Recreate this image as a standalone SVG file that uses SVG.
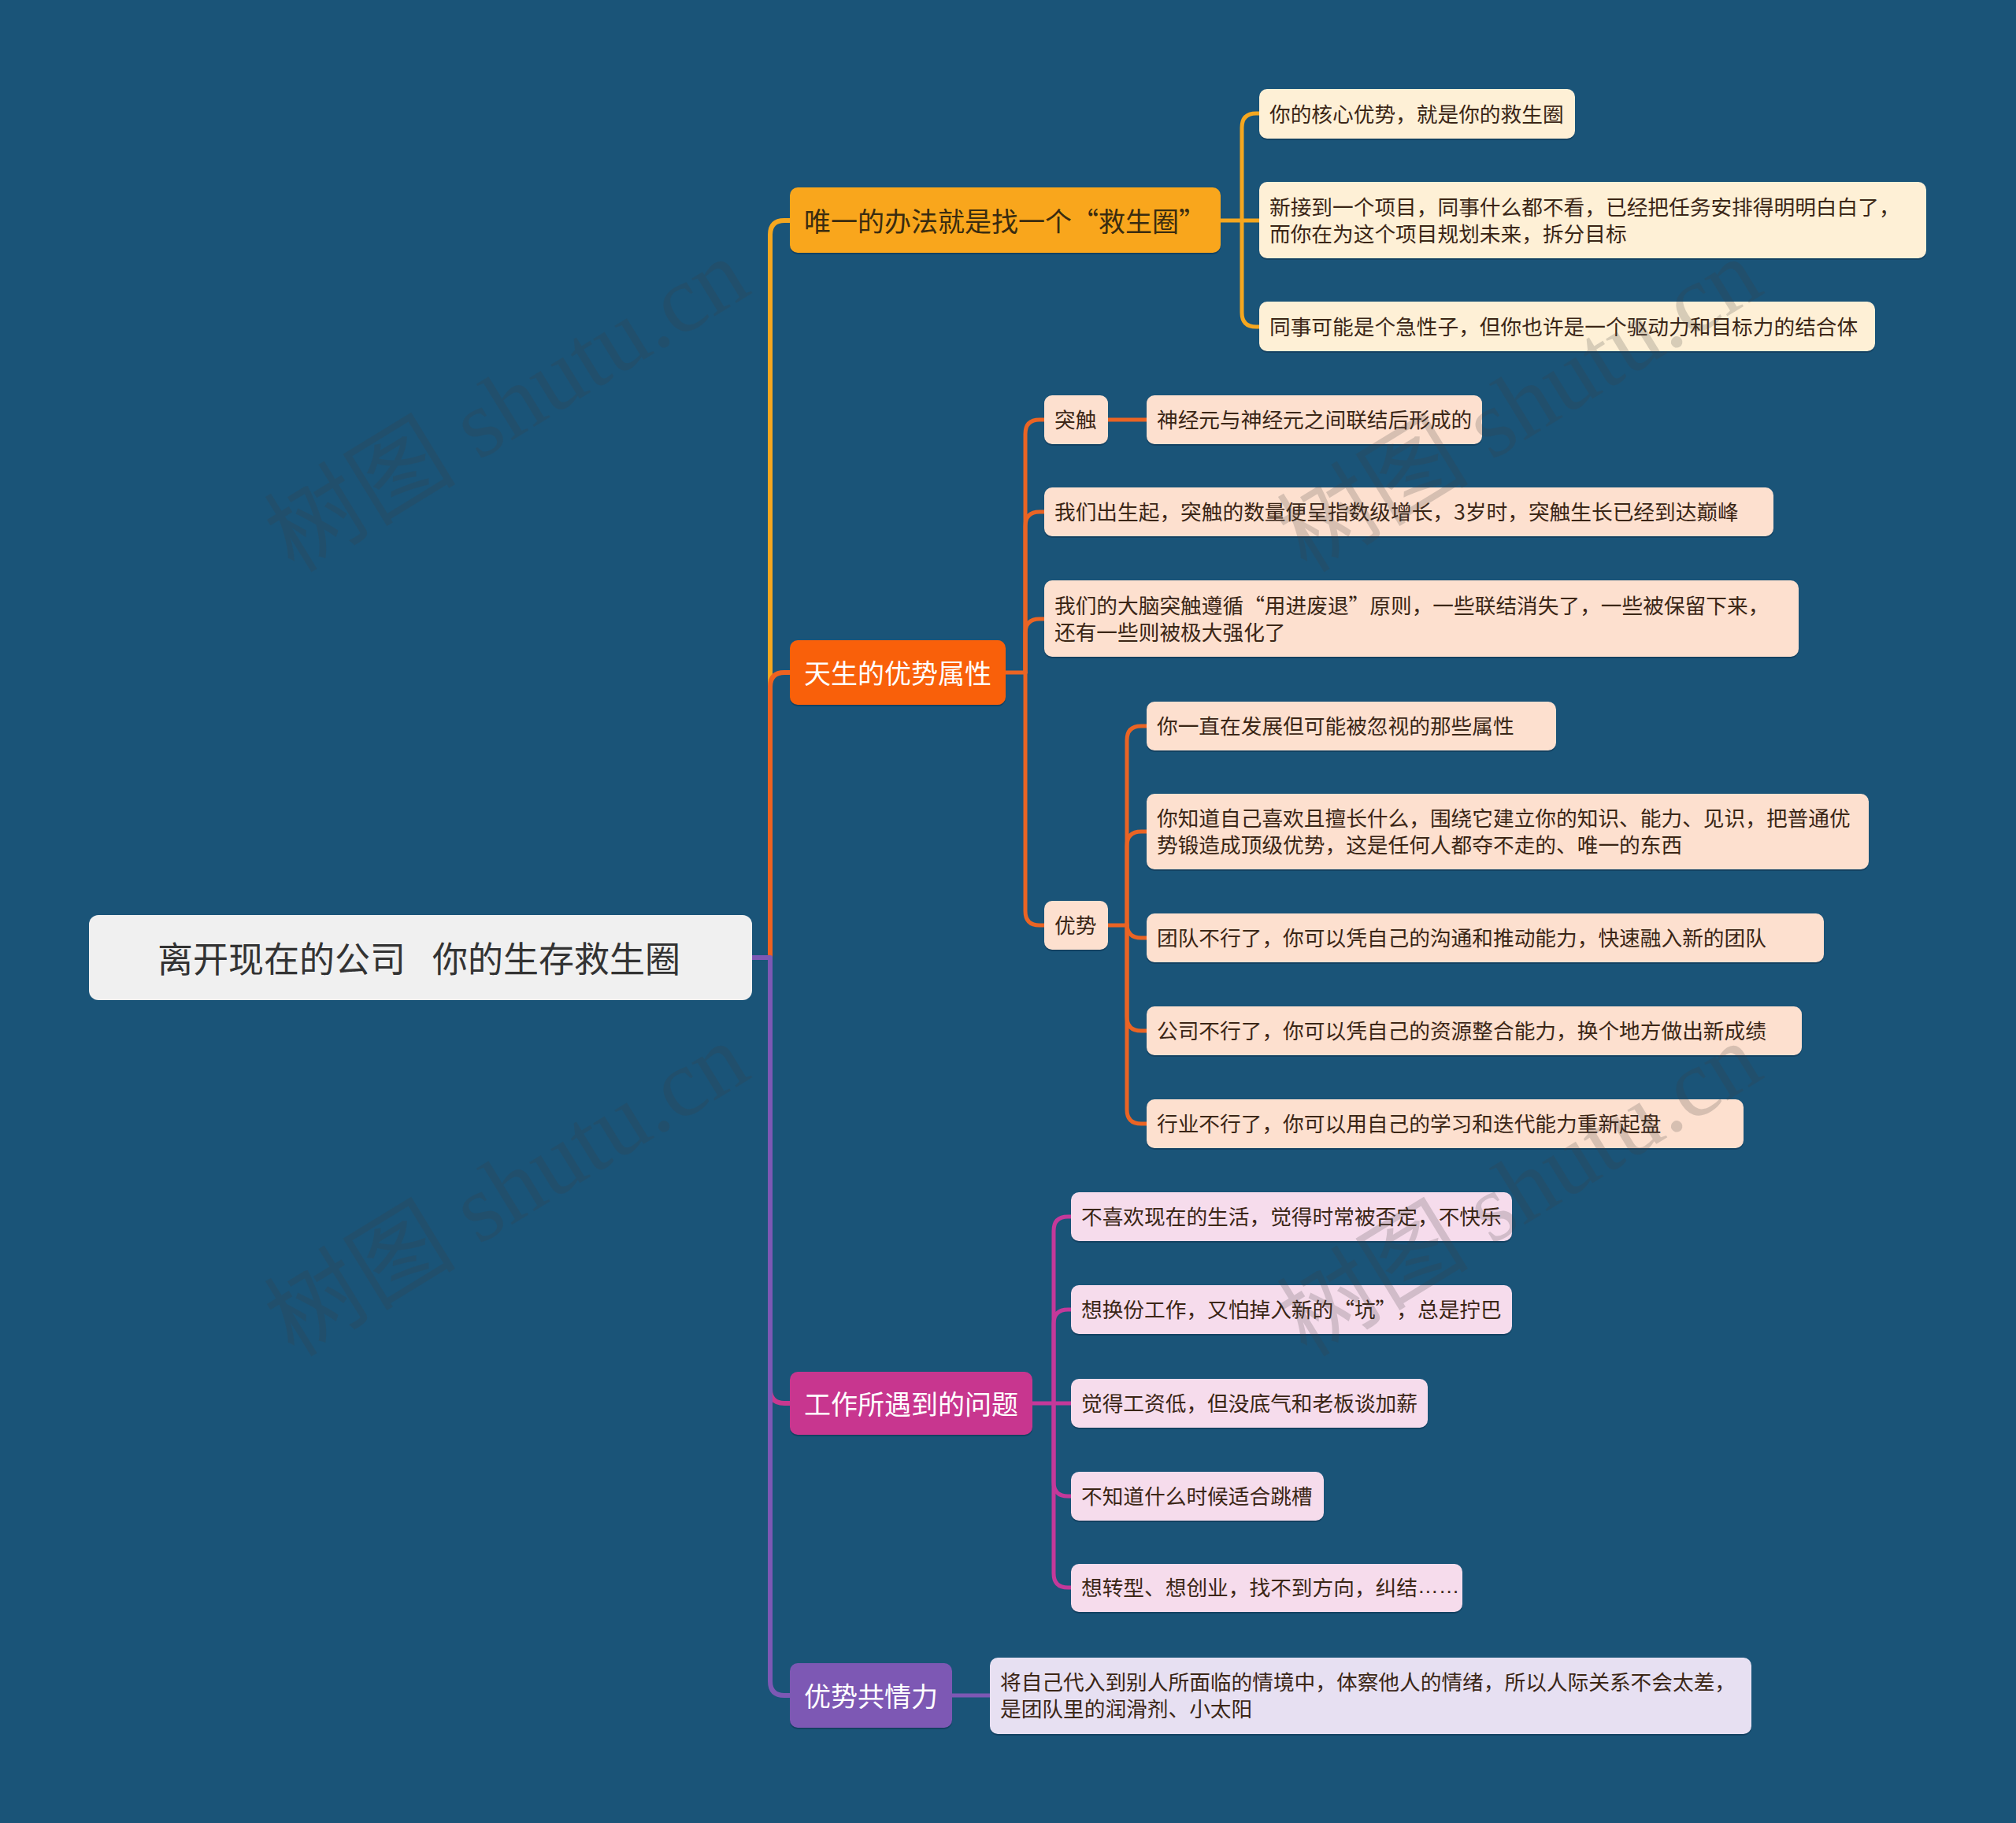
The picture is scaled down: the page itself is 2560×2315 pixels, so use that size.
<svg xmlns="http://www.w3.org/2000/svg" width="2560" height="2315" viewBox="0 0 2560 2315">
<style>
text{font-family:"Noto Sans CJK SC","Microsoft YaHei",sans-serif;dominant-baseline:central;text-spacing-trim:space-all}
.leaf{font-size:26.7px;fill:#3b2616;transform:translateY(-2px)}
.br{font-size:34px;transform:translateY(-1px)}
.rt{font-size:45px;fill:#333333;transform:translateY(-1px)}
.wh{fill:#ffffff}
.shadow{fill:#0e3350;opacity:0.55}
.c{fill:none;stroke-linecap:round;stroke-linejoin:round}
.wm{font-family:"Liberation Serif","Noto Sans CJK SC",serif;font-size:122px;fill:#404040;opacity:0.2;text-anchor:middle;dominant-baseline:alphabetic}
.el{font-family:"Liberation Sans",sans-serif}
</style>
<rect x="0" y="0" width="2560" height="2315" fill="#1a5478"/>
<g id="connectors">
  <path class="c" stroke="#f5a71f" stroke-width="6" d="M953,1216 H978 V298 Q978,280 996,280 H1003"/>
  <path class="c" stroke="#c8388f" stroke-width="6" d="M953,1216 H978 V1764 Q978,1782 996,1782 H1003"/>
  <path class="c" stroke="#ee6220" stroke-width="6" d="M953,1216 H978 V872 Q978,854 996,854 H1003"/>
  <path class="c" stroke="#7d58b4" stroke-width="6" d="M953,1216 H978 V2135 Q978,2153 996,2153 H1003"/>
  <g stroke="#f5a71f" stroke-width="5" class="c">
    <path d="M1550,280 H1577"/>
    <path d="M1577,280 V162 Q1577,144 1595,144 H1599"/>
    <path d="M1577,280 H1599"/>
    <path d="M1577,280 V397 Q1577,415 1595,415 H1599"/>
  </g>
  <g stroke="#ea6424" stroke-width="5" class="c">
    <path d="M1277,854 H1302"/>
    <path d="M1302,854 V551 Q1302,533 1320,533 H1326"/>
    <path d="M1302,854 V668 Q1302,650 1320,650 H1326"/>
    <path d="M1302,854 V804 Q1302,786 1320,786 H1326"/>
    <path d="M1302,854 V1157 Q1302,1175 1320,1175 H1326"/>
    <path d="M1407,533 H1456"/>
    <path d="M1407,1175 H1431"/>
    <path d="M1431,1175 V940 Q1431,922 1449,922 H1456"/>
    <path d="M1431,1175 V1074 Q1431,1056 1449,1056 H1456"/>
    <path d="M1431,1175 V1173 Q1431,1191 1449,1191 H1456"/>
    <path d="M1431,1175 V1291 Q1431,1309 1449,1309 H1456"/>
    <path d="M1431,1175 V1409 Q1431,1427 1449,1427 H1456"/>
  </g>
  <g stroke="#c4399a" stroke-width="5" class="c">
    <path d="M1311,1782 H1338"/>
    <path d="M1338,1782 V1563 Q1338,1545 1356,1545 H1360"/>
    <path d="M1338,1782 V1681 Q1338,1663 1356,1663 H1360"/>
    <path d="M1338,1782 H1360"/>
    <path d="M1338,1782 V1882 Q1338,1900 1356,1900 H1360"/>
    <path d="M1338,1782 V1998 Q1338,2016 1356,2016 H1360"/>
  </g>
  <path class="c" stroke="#7d58b4" stroke-width="5" d="M1209,2153 H1257"/>
</g>

<g id="root">
  <rect x="113" y="1162" width="842" height="108" rx="12" fill="#f0f0f0"/>
  <text class="rt" x="200" y="1216" xml:space="preserve">离开现在的公司  <tspan x="549">你的生存救生圈</tspan></text>
</g>

<g id="b1">
  <rect class="shadow" x="1003" y="240" width="547" height="83" rx="10"/>
  <rect x="1003" y="238" width="547" height="83" rx="10" fill="#f9a61c"/>
  <text class="br" x="1021" y="280" fill="#3a2c10">唯一的办法就是找一个“救生圈”</text>
</g>
<g id="b1a">
  <rect class="shadow" x="1599" y="115" width="401" height="63" rx="10"/>
  <rect x="1599" y="113" width="401" height="63" rx="10" fill="#fef0d6"/>
  <text class="leaf" x="1612" y="145">你的核心优势，就是你的救生圈</text>
</g>
<g id="b1b">
  <rect class="shadow" x="1599" y="233" width="847" height="97" rx="10"/>
  <rect x="1599" y="231" width="847" height="97" rx="10" fill="#fef0d6"/>
  <text class="leaf" x="1612" y="263">新接到一个项目，同事什么都不看，已经把任务安排得明明白白了，</text>
  <text class="leaf" x="1612" y="297">而你在为这个项目规划未来，拆分目标</text>
</g>
<g id="b1c">
  <rect class="shadow" x="1599" y="385" width="782" height="63" rx="10"/>
  <rect x="1599" y="383" width="782" height="63" rx="10" fill="#fef0d6"/>
  <text class="leaf" x="1612" y="415">同事可能是个急性子，但你也许是一个驱动力和目标力的结合体</text>
</g>

<g id="b2">
  <rect class="shadow" x="1003" y="815" width="274" height="82" rx="10"/>
  <rect x="1003" y="813" width="274" height="82" rx="10" fill="#f9600a"/>
  <text class="br wh" x="1021" y="854">天生的优势属性</text>
</g>
<g id="b2a">
  <rect class="shadow" x="1326" y="504" width="81" height="62" rx="10"/>
  <rect x="1326" y="502" width="81" height="62" rx="10" fill="#fde0cf"/>
  <text class="leaf" x="1339" y="533">突触</text>
</g>
<g id="b2a1">
  <rect class="shadow" x="1456" y="504" width="426" height="62" rx="10"/>
  <rect x="1456" y="502" width="426" height="62" rx="10" fill="#fde0cf"/>
  <text class="leaf" x="1469" y="533">神经元与神经元之间联结后形成的</text>
</g>
<g id="b2b">
  <rect class="shadow" x="1326" y="621" width="926" height="62" rx="10"/>
  <rect x="1326" y="619" width="926" height="62" rx="10" fill="#fde0cf"/>
  <text class="leaf" x="1339" y="650">我们出生起，突触的数量便呈指数级增长，3岁时，突触生长已经到达巅峰</text>
</g>
<g id="b2c">
  <rect class="shadow" x="1326" y="739" width="958" height="97" rx="10"/>
  <rect x="1326" y="737" width="958" height="97" rx="10" fill="#fde0cf"/>
  <text class="leaf" x="1339" y="769">我们的大脑突触遵循“用进废退”原则，一些联结消失了，一些被保留下来，</text>
  <text class="leaf" x="1339" y="803">还有一些则被极大强化了</text>
</g>
<g id="b2d">
  <rect class="shadow" x="1326" y="1146" width="81" height="62" rx="10"/>
  <rect x="1326" y="1144" width="81" height="62" rx="10" fill="#fde0cf"/>
  <text class="leaf" x="1339" y="1175">优势</text>
</g>
<g id="b2d1">
  <rect class="shadow" x="1456" y="893" width="520" height="62" rx="10"/>
  <rect x="1456" y="891" width="520" height="62" rx="10" fill="#fde0cf"/>
  <text class="leaf" x="1469" y="922">你一直在发展但可能被忽视的那些属性</text>
</g>
<g id="b2d2">
  <rect class="shadow" x="1456" y="1010" width="917" height="96" rx="10"/>
  <rect x="1456" y="1008" width="917" height="96" rx="10" fill="#fde0cf"/>
  <text class="leaf" x="1469" y="1039">你知道自己喜欢且擅长什么，围绕它建立你的知识、能力、见识，把普通优</text>
  <text class="leaf" x="1469" y="1073">势锻造成顶级优势，这是任何人都夺不走的、唯一的东西</text>
</g>
<g id="b2d3">
  <rect class="shadow" x="1456" y="1162" width="860" height="62" rx="10"/>
  <rect x="1456" y="1160" width="860" height="62" rx="10" fill="#fde0cf"/>
  <text class="leaf" x="1469" y="1191">团队不行了，你可以凭自己的沟通和推动能力，快速融入新的团队</text>
</g>
<g id="b2d4">
  <rect class="shadow" x="1456" y="1280" width="832" height="62" rx="10"/>
  <rect x="1456" y="1278" width="832" height="62" rx="10" fill="#fde0cf"/>
  <text class="leaf" x="1469" y="1309">公司不行了，你可以凭自己的资源整合能力，换个地方做出新成绩</text>
</g>
<g id="b2d5">
  <rect class="shadow" x="1456" y="1398" width="758" height="62" rx="10"/>
  <rect x="1456" y="1396" width="758" height="62" rx="10" fill="#fde0cf"/>
  <text class="leaf" x="1469" y="1427">行业不行了，你可以用自己的学习和迭代能力重新起盘</text>
</g>

<g id="b3">
  <rect class="shadow" x="1003" y="1744" width="308" height="80" rx="10"/>
  <rect x="1003" y="1742" width="308" height="80" rx="10" fill="#c8368f"/>
  <text class="br wh" x="1021" y="1782">工作所遇到的问题</text>
</g>
<g id="b3a">
  <rect class="shadow" x="1360" y="1516" width="560" height="62" rx="10"/>
  <rect x="1360" y="1514" width="560" height="62" rx="10" fill="#f6dcec"/>
  <text class="leaf" x="1373" y="1545">不喜欢现在的生活，觉得时常被否定，不快乐</text>
</g>
<g id="b3b">
  <rect class="shadow" x="1360" y="1634" width="560" height="62" rx="10"/>
  <rect x="1360" y="1632" width="560" height="62" rx="10" fill="#f6dcec"/>
  <text class="leaf" x="1373" y="1663">想换份工作，又怕掉入新的“坑”，总是拧巴</text>
</g>
<g id="b3c">
  <rect class="shadow" x="1360" y="1753" width="453" height="62" rx="10"/>
  <rect x="1360" y="1751" width="453" height="62" rx="10" fill="#f6dcec"/>
  <text class="leaf" x="1373" y="1782">觉得工资低，但没底气和老板谈加薪</text>
</g>
<g id="b3d">
  <rect class="shadow" x="1360" y="1871" width="321" height="62" rx="10"/>
  <rect x="1360" y="1869" width="321" height="62" rx="10" fill="#f6dcec"/>
  <text class="leaf" x="1373" y="1900">不知道什么时候适合跳槽</text>
</g>
<g id="b3e">
  <rect class="shadow" x="1360" y="1988" width="497" height="61" rx="10"/>
  <rect x="1360" y="1986" width="497" height="61" rx="10" fill="#f6dcec"/>
  <text class="leaf" x="1373" y="2016">想转型、想创业，找不到方向，纠结<tspan class="el">……</tspan></text>
</g>

<g id="b4">
  <rect class="shadow" x="1003" y="2114" width="206" height="82" rx="10"/>
  <rect x="1003" y="2112" width="206" height="82" rx="10" fill="#7d58b4"/>
  <text class="br wh" x="1021" y="2153">优势共情力</text>
</g>
<g id="b4a">
  <rect class="shadow" x="1257" y="2107" width="967" height="97" rx="10"/>
  <rect x="1257" y="2105" width="967" height="97" rx="10" fill="#e7e0f2"/>
  <text class="leaf" x="1270" y="2136">将自己代入到别人所面临的情境中，体察他人的情绪，所以人际关系不会太差，</text>
  <text class="leaf" x="1270" y="2170">是团队里的润滑剂、小太阳</text>
</g>

<g id="watermarks">
  <text class="wm" x="647" y="555" transform="rotate(-31.5 647 520)">树图 shutu.cn</text>
  <text class="wm" x="647" y="1551" transform="rotate(-31.5 647 1516)">树图 shutu.cn</text>
  <text class="wm" x="1933" y="555" transform="rotate(-31.5 1933 520)">树图 shutu.cn</text>
  <text class="wm" x="1933" y="1551" transform="rotate(-31.5 1933 1516)">树图 shutu.cn</text>
</g>
</svg>
